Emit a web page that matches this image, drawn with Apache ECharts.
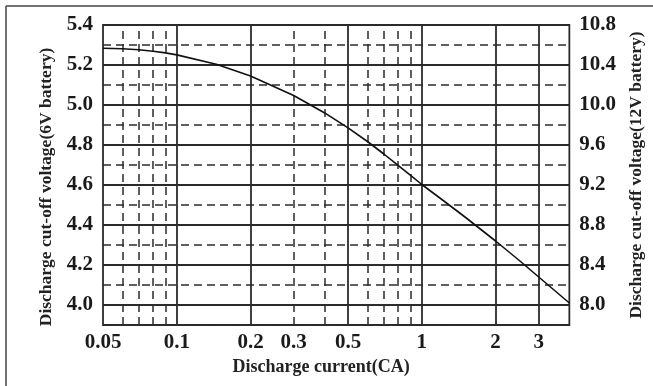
<!DOCTYPE html>
<html>
<head>
<meta charset="utf-8">
<script src="https://cdn.jsdelivr.net/npm/echarts@6/dist/echarts.min.js"></script>
<style>html,body{margin:0;padding:0;background:#fff}#c{width:653px;height:386px}</style>
</head>
<body>
<div id="c"></div>
<script>
// Discharge current (CA) and cut-off voltage (6V battery)
const currentCA = [0.05, 0.06, 0.07, 0.08, 0.09, 0.1, 0.145, 0.2, 0.3, 0.4, 0.5, 0.6, 0.7, 0.8, 0.9, 1, 1.23, 1.5, 2, 2.5, 3, 4];
const voltage6V = [5.2835, 5.2815, 5.276, 5.269, 5.2605, 5.2505, 5.2035, 5.145, 5.0475, 4.9615, 4.8855, 4.8175, 4.755, 4.698, 4.648, 4.6025, 4.52, 4.44, 4.32, 4.2225, 4.14, 4.01];
const xTickLabels = [0.05, 0.1, 0.2, 0.3, 0.5, 1, 2, 3];
const xSolidGrid = [0.1, 0.2, 0.5, 1, 2, 3];
const xDashedGrid = [0.06, 0.07, 0.08, 0.09, 0.3, 0.4, 0.6, 0.7, 0.8, 0.9];
const leftRange = [3.9, 5.4];
const rightRange = [7.8, 10.8];

const FONT = '"Liberation Serif","Times New Roman",serif';
const GRID = '#2b2b2b';
const chart = echarts.init(document.getElementById('c'), null, {renderer: 'canvas'});

const fmt1 = v => (Math.round(v * 10) / 10).toFixed(1);

chart.setOption({
  animation: false,
  backgroundColor: '#fff',
  grid: {left: 103, right: 83, top: 25, bottom: 61, show: true, borderColor: GRID, borderWidth: 1.8, backgroundColor: 'transparent'},
  graphic: [
    {type: 'line', shape: {x1: 6, y1: 6, x2: 653, y2: 6}, style: {stroke: '#444', lineWidth: 1.5}},
    {type: 'line', shape: {x1: 6, y1: 6, x2: 6, y2: 386}, style: {stroke: '#444', lineWidth: 1.5}}
  ],
  xAxis: {
    type: 'log', logBase: 10, min: currentCA[0], max: currentCA[currentCA.length - 1],
    name: 'Discharge current(CA)', nameLocation: 'middle', nameGap: 33,
    nameTextStyle: {fontFamily: FONT, fontWeight: 'bold', fontSize: 18, color: '#222', padding: [0, 30, 0, 0]},
    axisLine: {show: false}, axisTick: {show: false, customValues: xTickLabels},
    splitLine: {show: false}, minorSplitLine: {show: false},
    axisLabel: {customValues: xTickLabels, fontFamily: FONT, fontWeight: 'bold', fontSize: 21, color: '#1a1a1a', margin: 7,
      formatter: v => String(+v.toPrecision(6))}
  },
  yAxis: [
    {
      type: 'value', position: 'left', min: leftRange[0], max: leftRange[1], interval: 0.1,
      name: 'Discharge cut-off voltage(6V battery)', nameLocation: 'middle', nameGap: 48,
      nameTextStyle: {fontFamily: FONT, fontWeight: 'bold', fontSize: 17.5, color: '#222', padding: [0, 24, 0, 0]},
      axisLine: {show: false}, axisTick: {show: false},
      axisLabel: {fontFamily: FONT, fontWeight: 'bold', fontSize: 21, color: '#1a1a1a', margin: 10,
        formatter: v => (Math.round(v * 10) % 2 === 0 ? fmt1(v) : '')},
      splitLine: {show: true, lineStyle: {color: ['rgba(0,0,0,0)', GRID], width: 1.8, type: 'solid'}}
    },
    {
      type: 'value', position: 'right', min: rightRange[0], max: rightRange[1], interval: 0.2,
      name: 'Discharge cut-off voltage(12V battery)', nameLocation: 'middle', nameGap: 56,
      nameTextStyle: {fontFamily: FONT, fontWeight: 'bold', fontSize: 17.5, color: '#222'},
      axisLine: {show: false}, axisTick: {show: false},
      axisLabel: {fontFamily: FONT, fontWeight: 'bold', fontSize: 21, color: '#1a1a1a', margin: 10,
        formatter: v => (Math.round(v * 10) % 4 === 0 ? fmt1(v) : '')},
      splitLine: {show: true, lineStyle: {color: [GRID, 'rgba(0,0,0,0)'], width: 1.5, type: [8, 5]}}
    }
  ],
  series: [
    {
      type: 'line', xAxisIndex: 0, yAxisIndex: 0, silent: true, z: 1,
      data: [], symbol: 'none',
      markLine: {silent: true, symbol: 'none', label: {show: false}, animation: false,
        lineStyle: {color: GRID, width: 1.5, type: [8, 5]},
        data: xDashedGrid.map(v => ({xAxis: v}))}
    },
    {
      type: 'line', xAxisIndex: 0, yAxisIndex: 0, silent: true, z: 2,
      data: [], symbol: 'none',
      markLine: {silent: true, symbol: 'none', label: {show: false}, animation: false,
        lineStyle: {color: GRID, width: 1.8, type: 'solid'},
        data: xSolidGrid.map(v => ({xAxis: v}))}
    },
    {
      type: 'line', xAxisIndex: 0, yAxisIndex: 0, z: 5,
      data: currentCA.map((x, i) => [x, voltage6V[i]]),
      smooth: false, symbol: 'none', lineStyle: {color: '#111', width: 1.6, join: 'round'}
    }
  ]
});
</script>
</body>
</html>
